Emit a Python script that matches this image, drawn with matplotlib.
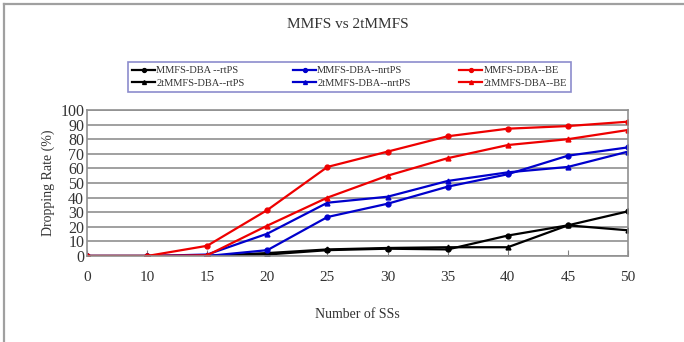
import matplotlib.pyplot as plt
from matplotlib.lines import Line2D

plt.rcParams['font.family'] = ['Liberation Serif', 'DejaVu Serif']

# ==== dados ====
categorias = ['0', '10', '15', '20', '25', '30', '35', '40', '45', '50']

mmfs_rtps = [0, 0, 0, 1, 4, 5, 4.5, 14, 21, 30.6]
mmfs_nrtps = [0, 0, 0, 4, 26.7, 35.8, 47.5, 56, 68.7, 74.4]
mmfs_be = [0, 0, 7, 31.5, 61, 71.5, 82, 87.2, 89, 92]
tt_rtps = [0, 0, 0, 2, 4.5, 5.5, 6, 6, 21, 17.6]
tt_nrtps = [0, 0, 1, 15.3, 36.5, 40.6, 51.4, 57.3, 61, 71.5]
tt_be = [0, 0, 0.5, 20.8, 40, 55, 67, 76, 80, 86.3]

series = [
    ("MMFS-DBA --rtPS", mmfs_rtps, 'black', 'o'),
    ("2tMMFS-DBA--rtPS", tt_rtps, 'black', '^'),
    ("MMFS-DBA--nrtPS", mmfs_nrtps, '#0000cc', 'o'),
    ("2tMMFS-DBA--nrtPS", tt_nrtps, '#0000cc', '^'),
    ("MMFS-DBA--BE", mmfs_be, '#ee0000', 'o'),
    ("2tMMFS-DBA--BE", tt_be, '#ee0000', '^'),
]

fig = plt.figure(figsize=(6.84, 3.42), dpi=100)
ax = fig.add_axes([87 / 684, 1 - 256 / 342, (628 - 87) / 684, (256 - 110) / 342])

x = list(range(len(categorias)))
handles = []
for nome, vals, cor, mk in series:
    h, = ax.plot(x, vals, color=cor, marker=mk, markersize=3.5, linewidth=1.6, label=nome)
    handles.append(h)

ax.set_xlim(0, len(categorias) - 1)
ax.set_ylim(0, 100)
ax.set_xticks(x)
ax.set_xticklabels(categorias)
ax.set_yticks(range(0, 101, 10))
ax.tick_params(axis='x', direction='in', length=4, color='#808080', labelsize=11, pad=11, labelcolor='#333333')
ax.tick_params(axis='y', length=0, labelsize=11.5, pad=2, labelcolor='#333333')
ax.grid(axis='y', color='#a0a0a0', linewidth=1.4)
ax.set_axisbelow(True)
for s in ax.spines.values():
    s.set_color('#909090')
    s.set_linewidth(1.2)

ax.set_ylabel("Dropping Rate (%)", fontsize=10, color='#333333', labelpad=4)
ax.set_xlabel("Number of SSs", fontsize=10, color='#333333', labelpad=17)
fig.text(348 / 684, 1 - 25 / 342, "MMFS vs 2tMMFS", ha='center', va='center', fontsize=11, color='#333333')

leg = fig.legend(handles=handles, ncol=3, loc='lower left',
                 bbox_to_anchor=(128 / 684, 1 - 92 / 342, (571 - 128) / 684, 34 / 342),
                 mode='expand', fontsize=7.5, frameon=True, fancybox=False,
                 handlelength=2.2, handletextpad=0.1, borderaxespad=0, labelspacing=0.3,
                 markerscale=0.8)
leg.get_frame().set_edgecolor('#7070c0')
leg.get_frame().set_linewidth(1.2)
for t in leg.get_texts():
    t.set_color('#333333')

# moldura da imagem
fig.add_artist(Line2D([3.5 / 684, 3.5 / 684], [0, 1 - 3.5 / 342], color='#a0a0a0', linewidth=1.6))
fig.add_artist(Line2D([3.5 / 684, 1], [1 - 3.5 / 342, 1 - 3.5 / 342], color='#a0a0a0', linewidth=1.6))

fig.savefig("out.png", dpi=100)
